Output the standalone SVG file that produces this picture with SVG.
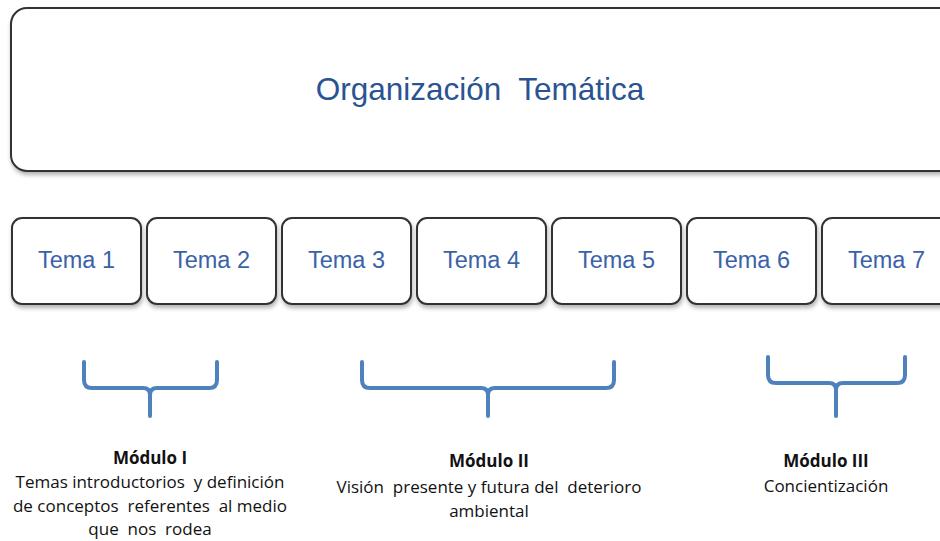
<svg xmlns="http://www.w3.org/2000/svg" width="940" height="541" viewBox="0 0 940 541">
<defs>
<filter id="sh" x="-10%" y="-10%" width="120%" height="130%">
<feDropShadow dx="1" dy="3" stdDeviation="2" flood-color="#000" flood-opacity="0.3"/>
</filter>
<style>
text{white-space:pre}
.box{fill:#fff;stroke:#333;stroke-width:2;filter:url(#sh)}
.tema{font-family:"Liberation Sans",Arial,sans-serif;font-size:23.5px;fill:#3a62a8;text-anchor:middle}
.title{font-family:"Liberation Sans",Arial,sans-serif;font-size:31.5px;fill:#2a5391;text-anchor:middle}
.brace{fill:none;stroke:#4f81bd;stroke-width:4;stroke-linecap:round;stroke-linejoin:round}
.mh{font-family:"Open Sans","Liberation Sans",sans-serif;font-size:17px;font-weight:bold;fill:#111;text-anchor:middle}
.mt{font-family:"Open Sans","Liberation Sans",sans-serif;font-size:17px;fill:#111;text-anchor:middle}
</style>
</defs>
<rect width="940" height="541" fill="#fff"/>
<g id="organizacion">
<rect class="box" x="11" y="8" width="945" height="163" rx="16"/>
<text class="title" x="480" y="100">Organización  Temática</text>
</g>
<g id="tema1"><rect class="box" x="12" y="218" width="129" height="86" rx="10"/><text class="tema" x="76.5" y="268">Tema 1</text></g>
<g id="tema2"><rect class="box" x="147" y="218" width="129" height="86" rx="10"/><text class="tema" x="211.5" y="268">Tema 2</text></g>
<g id="tema3"><rect class="box" x="282" y="218" width="129" height="86" rx="10"/><text class="tema" x="346.5" y="268">Tema 3</text></g>
<g id="tema4"><rect class="box" x="417" y="218" width="129" height="86" rx="10"/><text class="tema" x="481.5" y="268">Tema 4</text></g>
<g id="tema5"><rect class="box" x="552" y="218" width="129" height="86" rx="10"/><text class="tema" x="616.5" y="268">Tema 5</text></g>
<g id="tema6"><rect class="box" x="687" y="218" width="129" height="86" rx="10"/><text class="tema" x="751.5" y="268">Tema 6</text></g>
<g id="tema7"><rect class="box" x="822" y="218" width="129" height="86" rx="10"/><text class="tema" x="886.5" y="268">Tema 7</text></g>
<g id="connectors">
<path class="brace" d="M84,362 L84,380 Q84,388 92,388 L143,388 Q150,388 150,395 L150,416 M150,395 Q150,388 157,388 L209,388 Q217,388 217,380 L217,362"/>
<path class="brace" d="M362,362 L362,380 Q362,388 370,388 L481,388 Q488,388 488,395 L488,416 M488,395 Q488,388 495,388 L606,388 Q614,388 614,380 L614,362"/>
<path class="brace" d="M768,357 L768,375 Q768,383 776,383 L829,383 Q836,383 836,390 L836,416 M836,390 Q836,383 843,383 L897,383 Q905,383 905,375 L905,357"/>
</g>
<g id="modulo1">
<text class="mh" x="150" y="464">Módulo I</text>
<text class="mt" x="150" y="488">Temas introductorios  y definición</text>
<text class="mt" x="150" y="512">de conceptos  referentes  al medio</text>
<text class="mt" x="150" y="535">que  nos  rodea</text>
</g>
<g id="modulo2">
<text class="mh" x="489" y="467">Módulo II</text>
<text class="mt" x="489" y="493">Visión  presente y futura del  deterioro</text>
<text class="mt" x="489" y="517">ambiental</text>
</g>
<g id="modulo3">
<text class="mh" x="826" y="467">Módulo III</text>
<text class="mt" x="826" y="492">Concientización</text>
</g>
</svg>
